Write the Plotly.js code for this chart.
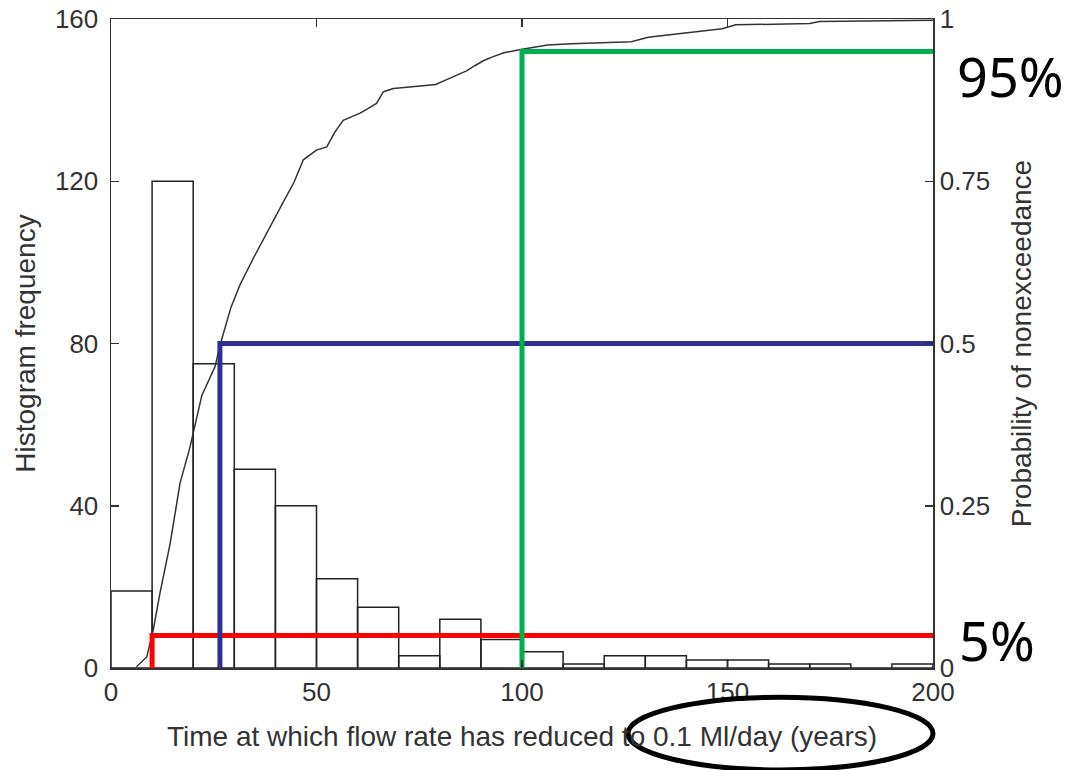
<!DOCTYPE html>
<html>
<head>
<meta charset="utf-8">
<script src="https://cdn.plot.ly/plotly-3.0.1.min.js"></script>
<style>html,body{margin:0;padding:0;background:#fff;}#chart{width:1070px;height:770px;}</style>
</head>
<body>
<div id="chart"></div>
<script>
// Histogram bins (bin centres, width 10 years) and frequencies
const binCentres = [5,15,25,35,45,55,65,75,85,95,105,115,125,135,145,155,165,175,185,195];
const binCounts  = [19,120,75,49,40,22,15,3,12,7,4,1,3,3,2,2,1,1,0,1];
const binWidth = 10;

// Empirical cumulative distribution (probability of nonexceedance)
const cdfX = [6.2,8.7,10.3,11.9,14.4,16.8,19.2,20.8,22.1,25.3,26.5,29.2,31.5,34.6,37.0,39.1,42.1,44.5,46.8,48.5,50.0,52.5,54.5,56.5,58.5,60.6,62.5,64.6,66.3,68.7,72.0,76.0,79.0,82.5,84.5,86.5,88.5,90.7,93.0,95.6,99.7,103.0,106.2,112.0,118.0,124.0,126.6,130.7,136.0,142.0,148.7,152.0,160.0,170.0,172.4,185.0,200.0];
const cdfP = [0.002,0.017,0.059,0.115,0.192,0.285,0.340,0.382,0.420,0.464,0.497,0.556,0.592,0.631,0.660,0.685,0.720,0.748,0.783,0.791,0.798,0.803,0.826,0.844,0.849,0.855,0.862,0.870,0.888,0.893,0.895,0.897,0.899,0.909,0.914,0.920,0.928,0.936,0.942,0.948,0.953,0.957,0.960,0.962,0.963,0.964,0.965,0.972,0.976,0.980,0.985,0.991,0.992,0.993,0.996,0.997,0.998];

// Quantile markers
const quantileX = [10, 26.5, 100];
const quantileP = [0.05, 0.5, 0.95];
const quantileColors = ['#ff0000', '#2e3192', '#00b050'];
const quantileLabels = ['5%', '', '95%'];

// Tick labels
const xTicks = [0, 50, 100, 150, 200];
const yTicks = [0, 40, 80, 120, 160];
const y2Ticks = [0, 0.25, 0.5, 0.75, 1];
const y2TickText = ['0', '0.25', '0.5', '0.75', '1'];

const xMax = 200;
const axisColor = '#333';
const font = 'Liberation Sans, Arial, sans-serif';

const traces = [];
traces.push({
  type: 'bar', x: binCentres, y: binCounts, width: binWidth,
  marker: {color: 'rgba(255,255,255,0)', line: {color: '#222', width: 1.5}},
  xaxis: 'x', yaxis: 'y', hoverinfo: 'skip', showlegend: false
});
traces.push({
  type: 'scatter', mode: 'lines', x: cdfX, y: cdfP,
  line: {color: '#333', width: 1.5},
  xaxis: 'x', yaxis: 'y2', showlegend: false
});
quantileX.forEach((qx, i) => {
  traces.push({
    type: 'scatter', mode: 'lines',
    x: [qx, qx, xMax], y: [0, quantileP[i], quantileP[i]],
    line: {color: quantileColors[i], width: 5},
    xaxis: 'x', yaxis: 'y2', showlegend: false, cliponaxis: false
  });
});

const annotations = [];
quantileP.forEach((p, i) => {
  if (!quantileLabels[i]) return;
  annotations.push({
    text: quantileLabels[i], xref: 'paper', yref: 'y2', x: 1.03, y: p,
    xanchor: 'left', yanchor: 'middle', showarrow: false,
    yshift: i === 2 ? -25 : -4, xshift: i === 2 ? -3 : -1,
    font: {family: 'Noto Sans, DejaVu Sans, sans-serif', size: 54, color: '#000'}
  });
});

const layout = {
  width: 1070, height: 770,
  margin: {l: 111, r: 137, t: 19, b: 102},
  paper_bgcolor: '#fff', plot_bgcolor: '#fff',
  bargap: 0,
  font: {family: font, size: 26, color: axisColor},
  xaxis: {
    range: [0, 200], tickvals: xTicks, ticks: 'inside', ticklen: 8, tickwidth: 1.5,
    tickcolor: axisColor, showline: true, linecolor: axisColor, linewidth: 1.5,
    mirror: 'ticks', showgrid: false, zeroline: false,
    tickfont: {size: 26, color: axisColor},
    title: {text: 'Time at which flow rate has reduced to 0.1 Ml/day (years)', font: {size: 28, color: axisColor}, standoff: 20}
  },
  yaxis: {
    range: [0, 160], tickvals: yTicks, ticks: 'inside', ticklen: 8, tickwidth: 1.5,
    tickcolor: axisColor, showline: true, linecolor: axisColor, linewidth: 1.5,
    showgrid: false, zeroline: false, ticklabelstandoff: 6,
    tickfont: {size: 26, color: axisColor},
    title: {text: 'Histogram frequency', font: {size: 28, color: axisColor}, standoff: 11}
  },
  yaxis2: {
    range: [0, 1], tickvals: y2Ticks, ticktext: y2TickText, overlaying: 'y', side: 'right',
    ticks: 'inside', ticklen: 8, tickwidth: 1.5, tickcolor: axisColor,
    showline: true, linecolor: axisColor, linewidth: 1.5, showgrid: false, zeroline: false,
    tickfont: {size: 26, color: axisColor},
    title: {text: 'Probability of nonexceedance', font: {size: 28, color: axisColor}, standoff: 22}
  },
  annotations: annotations,
  shapes: [{
    type: 'circle', xref: 'paper', yref: 'paper',
    x0: 0.629, x1: 1.0, y0: -0.157, y1: -0.045,
    line: {color: '#000', width: 5}, fillcolor: 'rgba(0,0,0,0)'
  }]
};

Plotly.newPlot('chart', traces, layout, {displayModeBar: false, staticPlot: true});
</script>
</body>
</html>
